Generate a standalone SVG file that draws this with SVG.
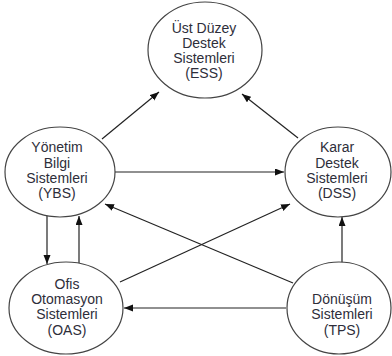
<svg xmlns="http://www.w3.org/2000/svg" width="392" height="356" viewBox="0 0 392 356">
<defs>
<marker id="ah" markerUnits="userSpaceOnUse" markerWidth="10" markerHeight="8" refX="9" refY="3.5" orient="auto">
<path d="M0,0 L9,3.5 L0,7 z" fill="#111"/>
</marker>
<style>
.n{fill:#fff;stroke:#444;stroke-width:1.2}
.t{font-family:"Liberation Sans",Arial,sans-serif;font-size:14px;fill:#2e2e3a;text-anchor:middle}
.c{stroke:#222;stroke-width:1.2;fill:none;marker-end:url(#ah)}
</style>
</defs>
<rect width="392" height="356" fill="#fff"/>
<g id="connectors">
<line class="c" x1="102" y1="139" x2="159" y2="92"/>
<line class="c" x1="298" y1="138" x2="242" y2="94"/>
<line class="c" x1="115" y1="172" x2="284" y2="172"/>
<line class="c" x1="293" y1="283" x2="105" y2="204"/>
<line class="c" x1="120" y1="282" x2="290" y2="204"/>
<line class="c" x1="342" y1="263" x2="342" y2="217"/>
<line class="c" x1="286" y1="308" x2="124" y2="308"/>
<line class="c" x1="47" y1="216" x2="47" y2="264"/>
<line class="c" x1="79" y1="263" x2="79" y2="216"/>
</g>
<g id="ESS">
<ellipse class="n" cx="205" cy="50" rx="57" ry="48"/>
<text class="t" x="204" y="33">Üst Düzey</text>
<text class="t" x="204" y="48">Destek</text>
<text class="t" x="204" y="63">Sistemleri</text>
<text class="t" x="204" y="78">(ESS)</text>
</g>
<g id="YBS">
<ellipse class="n" cx="60" cy="172" rx="55" ry="45"/>
<text class="t" x="57" y="152">Yönetim</text>
<text class="t" x="57" y="168">Bilgi</text>
<text class="t" x="57" y="183">Sistemleri</text>
<text class="t" x="57" y="198">(YBS)</text>
</g>
<g id="DSS">
<ellipse class="n" cx="338" cy="172" rx="53" ry="45"/>
<text class="t" x="337" y="152">Karar</text>
<text class="t" x="337" y="168">Destek</text>
<text class="t" x="337" y="183">Sistemleri</text>
<text class="t" x="337" y="198">(DSS)</text>
</g>
<g id="OAS">
<ellipse class="n" cx="66" cy="308" rx="57" ry="46"/>
<text class="t" x="67" y="289">Ofis</text>
<text class="t" x="67" y="304">Otomasyon</text>
<text class="t" x="67" y="319">Sistemleri</text>
<text class="t" x="67" y="335">(OAS)</text>
</g>
<g id="TPS">
<ellipse class="n" cx="339" cy="308" rx="52" ry="46"/>
<text class="t" x="342" y="304">Dönüşüm</text>
<text class="t" x="342" y="319">Sistemleri</text>
<text class="t" x="342" y="335">(TPS)</text>
</g>
</svg>
